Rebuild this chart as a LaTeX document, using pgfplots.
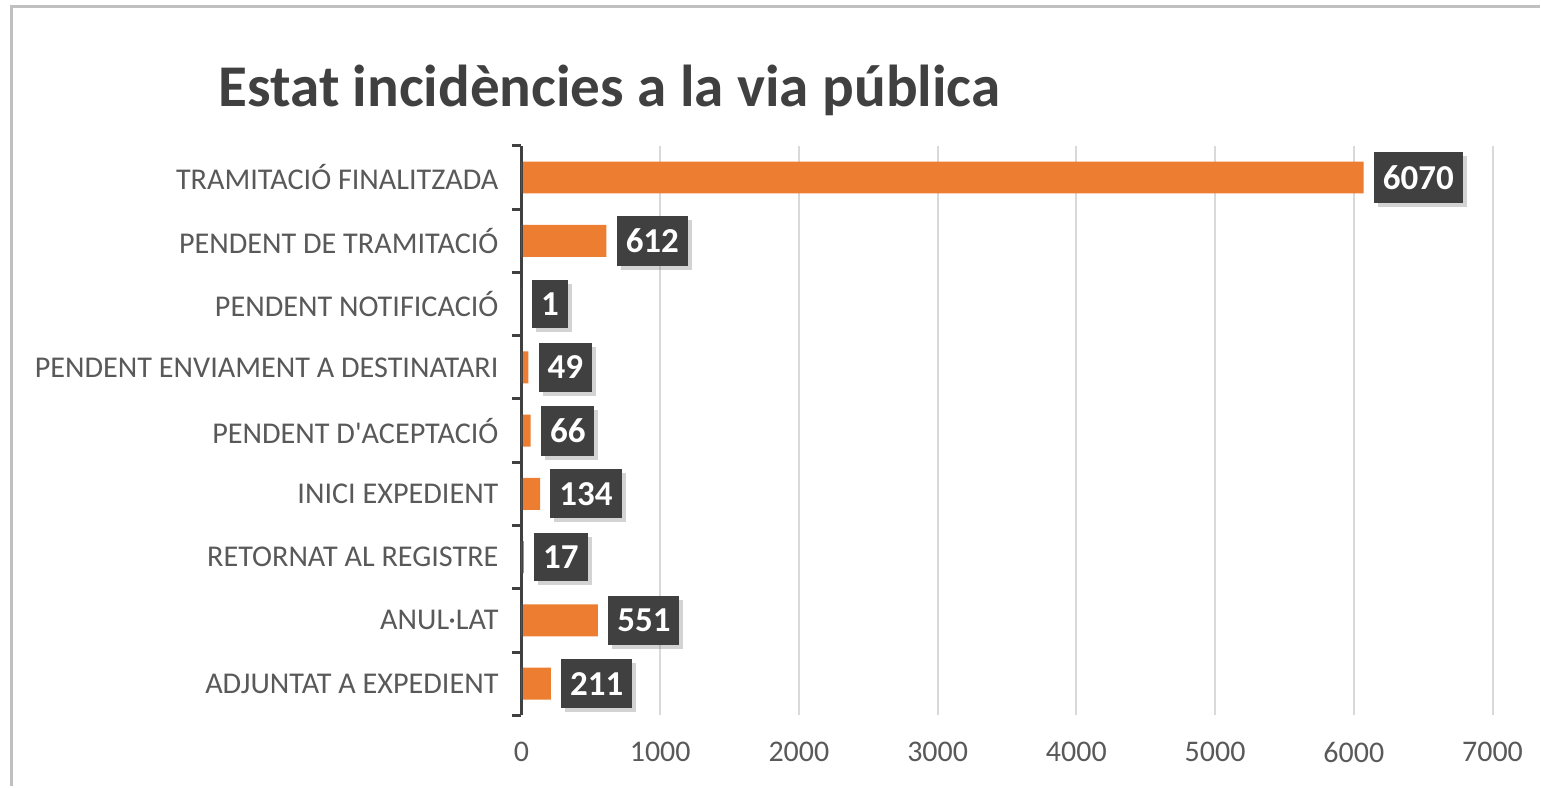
\documentclass[border=0pt]{standalone}
\usepackage{fontspec}
\setmainfont{Carlito}
\usepackage{pgfplots}
\pgfplotsset{compat=1.18}
\usetikzlibrary{shadows}
\definecolor{barorange}{HTML}{ED7D31}
\definecolor{darklbl}{HTML}{404040}
\definecolor{txtgray}{HTML}{595959}
\definecolor{gridgray}{HTML}{D9D9D9}
\definecolor{framegray}{HTML}{C0C0C0}

\begin{document}
\begin{tikzpicture}
\begin{axis}[
    name=ax,
    at={(0,0)}, anchor=south west,
    scale only axis,
    width=486pt, height=285pt,
    xbar, bar width=16pt, bar shift=0pt,
    xmin=0, xmax=7000,
    ymin=-0.5, ymax=8.5, y dir=reverse,
    xtick={0,1000,...,7000},
    ytick={0,...,8},
    yticklabels={TRAMITACIÓ FINALITZADA, PENDENT DE TRAMITACIÓ, PENDENT NOTIFICACIÓ,
        PENDENT ENVIAMENT A DESTINATARI, PENDENT D\textquotesingle ACEPTACIÓ, INICI EXPEDIENT,
        RETORNAT AL REGISTRE, ANUL·LAT, ADJUNTAT A EXPEDIENT},
    minor ytick={-0.5,0.5,...,8.5},
    axis y line*=left, axis x line*=bottom,
    x axis line style={draw=none},
    y axis line style={draw=darklbl, line width=1.5pt, -},
    major tick length=0pt,
    minor tick length=4.5pt,
    tick align=outside,
    minor tick style={draw=darklbl, line width=1.5pt},
    xmajorgrids, grid style={draw=gridgray, line width=1pt},
    /pgf/number format/assume math mode=true,
    /pgf/number format/1000 sep={},
    xticklabel style={font=\fontsize{15}{18}\selectfont, text=txtgray, yshift=-10pt},
    yticklabel style={font=\fontsize{15.1}{18}\selectfont, text=txtgray, xshift=-8pt},
]
\addplot[draw=none, fill=barorange,
    nodes near coords,
    every node near coord/.append style={
        anchor=west, xshift=5pt, fill=darklbl, text=white,
        font=\fontsize{17.5}{20}\selectfont\bfseries,
        inner xsep=4.5pt, inner ysep=6.5pt,
        drop shadow={shadow xshift=2pt, shadow yshift=-2pt, opacity=0.35}},
    ] coordinates {
    (6070,0) (612,1) (1,2) (49,3) (66,4) (134,5) (17,6) (551,7) (211,8)};
\draw[darklbl, line width=1.5pt] (rel axis cs:0,0) -- (rel axis cs:0,1);
\end{axis}
% frame and title (1px = 0.5pt, axis origin at pixel (522,716))
\draw[framegray, line width=1.5pt] (-255pt,-35.5pt) -- (-255pt,354.5pt) -- (509.5pt,354.5pt);
\node[font=\fontsize{29.6}{35}\selectfont\bfseries, text=darklbl] at (44pt,313pt)
    {Estat incidències a la via pública};
\useasboundingbox (-261pt,-35.5pt) rectangle (509.5pt,358pt);
\end{tikzpicture}
\end{document}
